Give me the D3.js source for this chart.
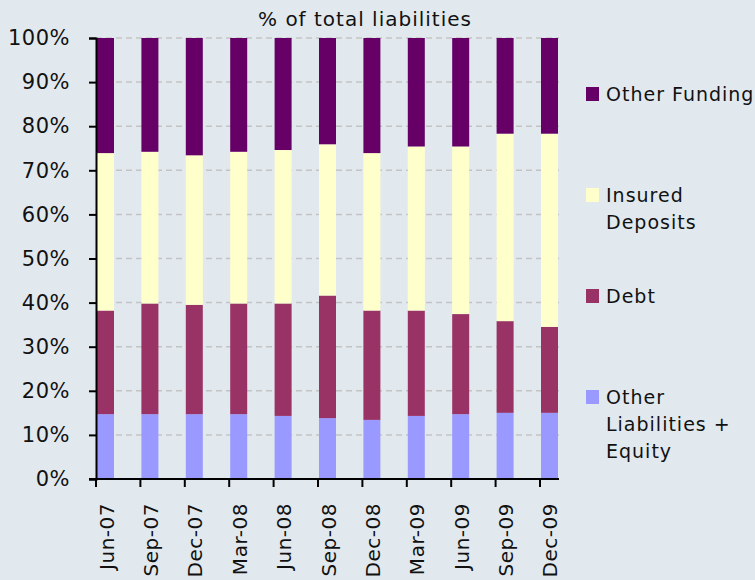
<!DOCTYPE html>
<html>
<head>
<meta charset="utf-8">
<script src="https://cdn.jsdelivr.net/npm/d3@7"></script>
<style>
  body { margin: 0; background: #e1e9ef; }
  svg { display: block; font-family: "DejaVu Sans", Verdana, sans-serif; }
</style>
</head>
<body>
<svg id="chart" width="755" height="580"></svg>
<script>
const categories = ["Jun-07", "Sep-07", "Dec-07", "Mar-08", "Jun-08", "Sep-08", "Dec-08", "Mar-09", "Jun-09", "Sep-09", "Dec-09"]
const otherLiabilities = [14.7, 14.7, 14.7, 14.7, 14.3, 13.8, 13.4, 14.3, 14.7, 15.0, 15.0]
const debt = [23.5, 25.1, 24.8, 25.1, 25.5, 27.8, 24.8, 23.9, 22.7, 20.8, 19.5]
const insuredDeposits = [35.7, 34.4, 33.9, 34.4, 34.8, 34.3, 35.7, 37.2, 38.0, 42.5, 43.8]
const otherFunding = [26.1, 25.8, 26.6, 25.8, 25.4, 24.1, 26.1, 24.6, 24.6, 21.7, 21.7]
const yTicks = [0, 10, 20, 30, 40, 50, 60, 70, 80, 90, 100]

const seriesKeys = ["other", "debt", "insured", "funding"]
const seriesColors = ["#9999ff", "#993366", "#ffffcc", "#660066"]
const legendItems = [
  {key: "funding", lines: ["Other Funding"]},
  {key: "insured", lines: ["Insured", "Deposits"]},
  {key: "debt", lines: ["Debt"]},
  {key: "other", lines: ["Other", "Liabilities +", "Equity"]}
]

const table = categories.map(function(c, i) {
  return {cat: c, other: otherLiabilities[i], debt: debt[i], insured: insuredDeposits[i], funding: otherFunding[i]}
})

const svg = d3.select("#chart")

const x = d3.scaleBand()
    .domain(categories)
    .range([97, 558])
    .paddingInner(0.617)
    .paddingOuter(0)

const y = d3.scaleLinear()
    .domain([0, 100])
    .range([479, 38])

const color = d3.scaleOrdinal()
    .domain(seriesKeys)
    .range(seriesColors)

// title
svg.append("text")
    .attr("x", 365)
    .attr("y", 26)
    .attr("text-anchor", "middle")
    .style("font-size", "20px")
    .style("letter-spacing", "1px")
    .attr("fill", "#111")
    .text("% of total liabilities")

// clipped piece of the main heading above
svg.append("text")
    .attr("x", 630)
    .attr("y", -7)
    .style("font-size", "30px")
    .style("font-weight", "bold")
    .attr("fill", "#111")
    .text("g")

// gridlines
svg.append("g")
    .selectAll("line")
    .data(yTicks.filter(function(d) { return d > 0 }))
    .enter().append("line")
    .attr("x1", 96)
    .attr("x2", 559)
    .attr("y1", function(d) { return y(d) })
    .attr("y2", function(d) { return y(d) })
    .attr("stroke", "#c3c3c3")
    .attr("stroke-width", 1.5)
    .attr("stroke-dasharray", "6,4")

// stacked bars
const stack = d3.stack().keys(seriesKeys)
const layers = stack(table)

svg.append("g")
    .selectAll("g")
    .data(layers)
    .enter().append("g")
    .attr("fill", function(d) { return color(d.key) })
  .selectAll("rect")
    .data(function(d) { return d })
    .enter().append("rect")
    .attr("x", function(d) { return x(d.data.cat) })
    .attr("width", x.bandwidth())
    .attr("y", function(d) { return y(d[1]) })
    .attr("height", function(d) { return y(d[0]) - y(d[1]) })

// y axis
const yAxis = d3.axisLeft(y)
    .tickValues(yTicks)
    .tickSize(7)
    .tickPadding(19)
    .tickFormat(function(d) { return d + "%" })

const yg = svg.append("g")
    .attr("transform", "translate(96,0)")
    .call(yAxis)
yg.select(".domain").attr("stroke", "#000").attr("stroke-width", 2)
yg.selectAll(".tick line").attr("stroke", "#000").attr("stroke-width", 2)
yg.selectAll(".tick text")
    .style("font-size", "21px")
    .style("letter-spacing", "0.5px")
    .style("font-family", "DejaVu Sans, Verdana, sans-serif")
    .attr("fill", "#111")

// x axis
const xg = svg.append("g")
    .attr("transform", "translate(0,479)")
xg.append("line")
    .attr("x1", 89)
    .attr("x2", 559)
    .attr("stroke", "#000")
    .attr("stroke-width", 2)
xg.selectAll(".xtick")
    .data(categories)
    .enter().append("line")
    .attr("class", "xtick")
    .attr("x1", function(d) { return x(d) - 1 })
    .attr("x2", function(d) { return x(d) - 1 })
    .attr("y1", 0)
    .attr("y2", 8)
    .attr("stroke", "#000")
    .attr("stroke-width", 2)
xg.selectAll(".xlabel")
    .data(categories)
    .enter().append("text")
    .attr("class", "xlabel")
    .attr("transform", function(d) { return "translate(" + (x(d) + x.bandwidth() / 2 + 1) + ",24) rotate(-90)" })
    .attr("dy", "0.35em")
    .attr("text-anchor", "end")
    .style("font-size", "20px")
    .style("letter-spacing", "0.5px")
    .attr("fill", "#111")
    .text(function(d) { return d })

// legend
const legend = svg.selectAll(".legend")
    .data(legendItems)
    .enter().append("g")
    .attr("class", "legend")
    .attr("transform", function(d, i) { return "translate(586," + (87 + i * 101) + ")" })

legend.append("rect")
    .attr("width", 13)
    .attr("height", 14)
    .attr("fill", function(d) { return color(d.key) })

legend.append("text")
    .attr("x", 20)
    .attr("y", 14)
    .style("font-size", "19px")
    .style("letter-spacing", "1px")
    .attr("fill", "#111")
  .selectAll("tspan")
    .data(function(d) { return d.lines })
    .enter().append("tspan")
    .attr("x", 20)
    .attr("dy", function(d, i) { return i === 0 ? 0 : 27 })
    .text(function(d) { return d })
</script>
</body>
</html>
